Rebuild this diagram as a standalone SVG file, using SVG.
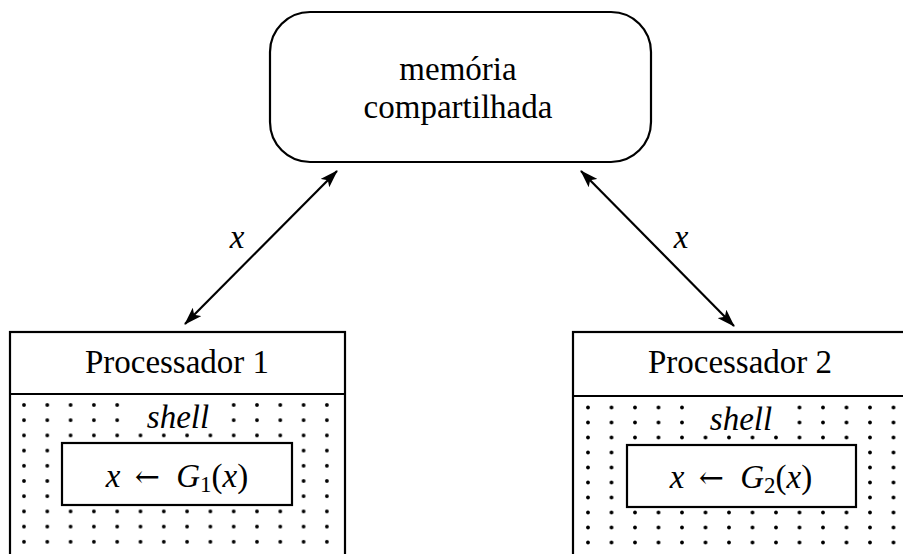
<svg xmlns="http://www.w3.org/2000/svg" width="903" height="554" viewBox="0 0 903 554" font-family="Liberation Serif, DejaVu Serif, serif">
  <style>
    .box { fill: none; stroke: #000; stroke-width: 2.2; }
    .lbl { font-size: 33px; fill: #000; text-anchor: middle; }
    .it { font-style: italic; }
    .arr { font-family: 'DejaVu Serif', serif; font-size: 30px; }
    .edge { stroke: #000; stroke-width: 2.2; fill: none; marker-start: url(#head); marker-end: url(#head); }
    .knock { fill: #fff; }
  </style>
  <defs>
    <marker id="head" viewBox="0 0 18 12" refX="17" refY="6" markerWidth="18" markerHeight="12" markerUnits="userSpaceOnUse" orient="auto-start-reverse">
      <path d="M0,0 L18,6 L0,12 L4,6 Z" fill="#000"/>
    </marker>
    <!-- dot screen for the shell areas -->
    <pattern id="dots1" patternUnits="userSpaceOnUse" x="12.35" y="397.4" width="23.3" height="15.2">
      <circle cx="11.65" cy="7.6" r="1.9" fill="#000"/>
    </pattern>
    <pattern id="dots2" patternUnits="userSpaceOnUse" x="576.25" y="400" width="23.5" height="15">
      <circle cx="11.75" cy="7.5" r="1.9" fill="#000"/>
    </pattern>
  </defs>

  <g id="connectors">
    <line class="edge" x1="185" y1="324" x2="337" y2="171"/>
    <text class="lbl it" x="237" y="248">x</text>
    <line class="edge" x1="581" y1="171" x2="734" y2="326"/>
    <text class="lbl it" x="681" y="248">x</text>
  </g>

  <g id="memoria">
    <rect class="box" x="270" y="12" width="381" height="150" rx="40" ry="40"/>
    <text class="lbl" x="458" y="80">memória</text>
    <text class="lbl" x="458" y="118">compartilhada</text>
  </g>

  <g id="processador1">
    <rect x="11" y="396" width="333" height="170" fill="url(#dots1)"/>
    <rect class="knock" x="132" y="397" width="90" height="30"/>
    <rect class="knock" x="62" y="443" width="230" height="62"/>
    <rect class="box" x="10" y="332" width="335" height="240"/>
    <line class="box" x1="10" y1="394" x2="345" y2="394"/>
    <text class="lbl" x="177" y="373">Processador 1</text>
    <text class="lbl it" x="178" y="428">shell</text>
    <rect class="box" x="62" y="443" width="230" height="62"/>
    <text class="lbl" x="177" y="487"><tspan class="it">x</tspan> <tspan class="arr" dx="6">←</tspan> <tspan class="it" dx="8">G</tspan><tspan font-size="23px" dy="5">1</tspan><tspan dy="-5">(</tspan><tspan class="it">x</tspan>)</text>
  </g>

  <g id="processador2">
    <rect x="575" y="398" width="340" height="170" fill="url(#dots2)"/>
    <rect class="knock" x="696" y="400" width="90" height="30"/>
    <rect class="knock" x="627" y="445" width="229" height="62"/>
    <rect class="box" x="573" y="332" width="360" height="240"/>
    <line class="box" x1="573" y1="396" x2="903" y2="396"/>
    <text class="lbl" x="740" y="373">Processador 2</text>
    <text class="lbl it" x="741" y="430">shell</text>
    <rect class="box" x="627" y="445" width="229" height="62"/>
    <text class="lbl" x="741" y="488"><tspan class="it">x</tspan> <tspan class="arr" dx="6">←</tspan> <tspan class="it" dx="8">G</tspan><tspan font-size="23px" dy="5">2</tspan><tspan dy="-5">(</tspan><tspan class="it">x</tspan>)</text>
  </g>
</svg>
